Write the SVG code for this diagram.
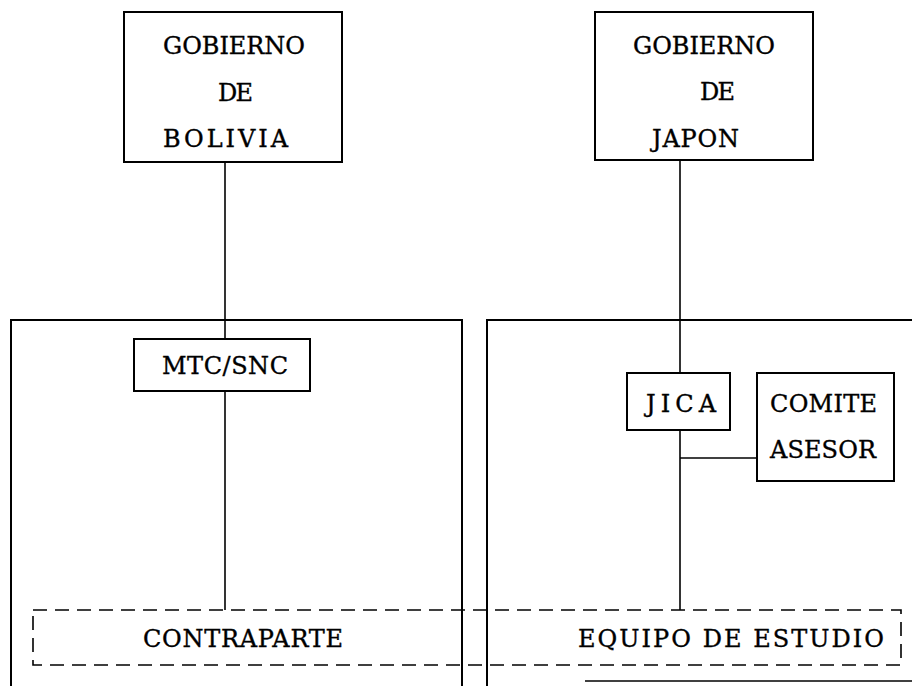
<svg xmlns="http://www.w3.org/2000/svg" width="912" height="686" viewBox="0 0 912 686">
<style>
.box{fill:none;stroke:#000;stroke-width:2}
.frame{fill:none;stroke:#000;stroke-width:2}
.conn{fill:none;stroke:#000;stroke-width:1.6}
.dash{fill:none;stroke:#000;stroke-width:1.6;stroke-dasharray:14 8}
.t text{font-family:"DejaVu Serif","Liberation Serif",serif;font-size:24px;fill:#000;stroke:#000;stroke-width:0.35}
</style>
<rect width="912" height="686" fill="#fff"/>
<g id="panel-bolivia"><path class="frame" d="M11,686 V320 H462 V686"/></g>
<g id="panel-japon"><path class="frame" d="M487,686 V320 H912"/><path class="conn" d="M585,681 H912"/></g>
<g id="connectors">
<path class="conn" d="M225,161 V339"/>
<path class="conn" d="M225,391 V610"/>
<path class="conn" d="M680,161 V373"/>
<path class="conn" d="M680,430 V610"/>
<path class="conn" d="M680,458 H757"/>
</g>
<g id="gob-bolivia" class="t" font-family="DejaVu Serif, Liberation Serif, serif" font-size="24">
<rect class="box" x="124" y="12" width="218" height="150"/>
<text x="163" y="54" textLength="142" lengthAdjust="spacing">GOBIERNO</text>
<text x="218" y="101" textLength="35" lengthAdjust="spacing">DE</text>
<text x="163" y="147" textLength="125" lengthAdjust="spacing">BOLIVIA</text>
</g>
<g id="gob-japon" class="t" font-family="DejaVu Serif, Liberation Serif, serif" font-size="24">
<rect class="box" x="595" y="12" width="218" height="148"/>
<text x="633" y="54" textLength="142" lengthAdjust="spacing">GOBIERNO</text>
<text x="700" y="100" textLength="35" lengthAdjust="spacing">DE</text>
<text x="652" y="147" textLength="87" lengthAdjust="spacing">JAPON</text>
</g>
<g id="mtc-snc" class="t" font-family="DejaVu Serif, Liberation Serif, serif" font-size="24">
<rect class="box" x="134" y="339" width="176" height="52"/>
<text x="162" y="374" textLength="126" lengthAdjust="spacing">MTC/SNC</text>
</g>
<g id="jica" class="t" font-family="DejaVu Serif, Liberation Serif, serif" font-size="24">
<rect class="box" x="627" y="373" width="103" height="57"/>
<text x="646" y="412" textLength="70" lengthAdjust="spacing">JICA</text>
</g>
<g id="comite-asesor" class="t" font-family="DejaVu Serif, Liberation Serif, serif" font-size="24">
<rect class="box" x="757" y="373" width="137" height="108"/>
<text x="770" y="412" textLength="107" lengthAdjust="spacing">COMITE</text>
<text x="770" y="458" textLength="106" lengthAdjust="spacing">ASESOR</text>
</g>
<g id="grupo-trabajo" class="t" font-family="DejaVu Serif, Liberation Serif, serif" font-size="24">
<rect class="dash" x="33" y="610" width="868" height="55"/>
<text x="143" y="647" textLength="200" lengthAdjust="spacing">CONTRAPARTE</text>
<text x="578" y="647" textLength="306" lengthAdjust="spacing">EQUIPO DE ESTUDIO</text>
</g>
</svg>
